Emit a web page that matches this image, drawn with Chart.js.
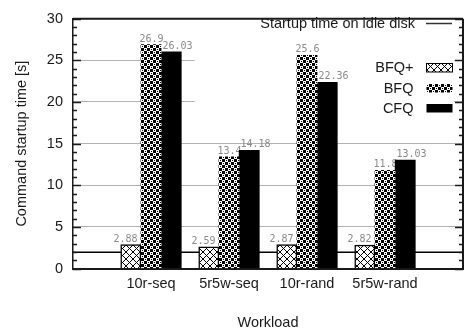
<!DOCTYPE html>
<html><head><meta charset="utf-8">
<script src="https://cdn.jsdelivr.net/npm/chart.js@4.4.1/dist/chart.umd.min.js"></script>
<style>html,body{margin:0;padding:0;overflow:hidden;background:#fff}canvas{display:block}</style>
</head><body>
<canvas id="c" width="470" height="333"></canvas>
<script>
// Command startup time per workload and I/O scheduler
const workloads = ['10r-seq', '5r5w-seq', '10r-rand', '5r5w-rand'];
const seriesNames = ['BFQ+', 'BFQ', 'CFQ'];
const bfqPlus = [2.88, 2.59, 2.87, 2.82];
const bfq = [26.9, 13.4, 25.6, 11.8];
const cfq = [26.03, 14.18, 22.36, 13.03];
const idleDiskStartup = 1.95;
const idleLabel = 'Startup time on idle disk';
const yMax = 30;
const yStep = 5;

const X_MIN = -1, X_MAX = 4;
const FONT = "'Liberation Sans', Arial, sans-serif";
const FONT_SIZE = 14.5;
const INK = '#1a1a1a';

const canvas = document.getElementById('c');
const ctx = canvas.getContext('2d');

// 1-bit fill tiles in the style of gnuplot patterns
function tile(size, isInk) {
  const c = document.createElement('canvas');
  c.width = c.height = size;
  const g = c.getContext('2d');
  const img = g.createImageData(size, size);
  for (let yy = 0; yy < size; yy++) {
    for (let xx = 0; xx < size; xx++) {
      const o = (yy * size + xx) * 4;
      const v = isInk(xx, yy) ? 0 : 255;
      img.data[o] = img.data[o + 1] = img.data[o + 2] = v;
      img.data[o + 3] = 255;
    }
  }
  g.putImageData(img, 0, 0);
  return ctx.createPattern(c, 'repeat');
}
const crossHatch = tile(7, (x, y) => x === y || x === 6 - y);
const ringDots = tile(6, (x, y) => {
  const ring = Math.floor(x / 3) === Math.floor(y / 3);
  return ring ? (x % 3 === 1 && y % 3 === 1) : true;
});
const fills = [crossHatch, ringDots, '#000'];
const series = [bfqPlus, bfq, cfq];

const toPoints = arr => arr.map((v, i) => ({ x: i, y: v }));

const decorations = {
  id: 'decorations',
  beforeDatasetsDraw(chart) {
    const { ctx, chartArea: a, scales: { x, y } } = chart;
    ctx.save();
    // opaque key background over the grid
    ctx.fillStyle = '#fff';
    ctx.fillRect(194.5, a.top + 1.5, a.right - 9 - 194.5, 122 - a.top);
    // value labels above each bar
    ctx.font = "10px 'DejaVu Sans Mono', monospace";
    ctx.fillStyle = '#8a8a8a';
    ctx.textAlign = 'center';
    ctx.textBaseline = 'alphabetic';
    series.forEach((arr, k) => arr.forEach((v, i) => {
      ctx.fillText(String(v), x.getPixelForValue(i + (k - 1) / 3) + 0.5, y.getPixelForValue(v) - 3);
    }));
    ctx.restore();
  },
  afterDraw(chart) {
    const { ctx, chartArea: a, scales: { y } } = chart;
    ctx.save();
    ctx.strokeStyle = INK;
    // inward major/minor ticks, mirrored on both sides
    ctx.lineWidth = 1.3;
    for (let v = 0; v <= yMax; v++) {
      const len = v % yStep === 0 ? 8 : 4;
      const py = Math.round(y.getPixelForValue(v)) + 0.5;
      ctx.beginPath();
      ctx.moveTo(a.left, py); ctx.lineTo(a.left + len, py);
      ctx.moveTo(a.right, py); ctx.lineTo(a.right - len, py);
      ctx.stroke();
    }
    // top and right frame
    ctx.lineWidth = 2;
    ctx.beginPath();
    ctx.moveTo(a.left, a.top); ctx.lineTo(a.right, a.top);
    ctx.moveTo(a.right, a.top); ctx.lineTo(a.right, a.bottom);
    ctx.stroke();

    // key
    ctx.font = FONT_SIZE + 'px ' + FONT;
    ctx.fillStyle = INK;
    ctx.textAlign = 'right';
    ctx.textBaseline = 'middle';
    ctx.fillText(idleLabel, 415, 23.5);
    ctx.strokeStyle = '#333';
    ctx.lineWidth = 1.5;
    ctx.beginPath(); ctx.moveTo(426, 23.5); ctx.lineTo(452, 23.5); ctx.stroke();
    const rows = [68, 88.5, 108.5];
    seriesNames.forEach((name, k) => {
      const yc = rows[k];
      ctx.fillText(name, 413.5, yc);
      ctx.fillStyle = fills[k];
      ctx.fillRect(426.5, yc - 4.5, 26, 8.5);
      if (k === 0) {
        ctx.strokeStyle = '#000';
        ctx.lineWidth = 1;
        ctx.strokeRect(426.5, yc - 4.5, 26, 8.5);
      }
      ctx.fillStyle = INK;
    });
    ctx.restore();
  }
};

new Chart(ctx, {
  type: 'bar',
  data: {
    datasets: [
      {
        type: 'line', label: idleLabel,
        data: [{ x: X_MIN, y: idleDiskStartup }, { x: X_MAX, y: idleDiskStartup }],
        borderColor: '#000', borderWidth: 1.5, pointRadius: 0, order: 2
      },
      { label: seriesNames[0], data: toPoints(bfqPlus), backgroundColor: crossHatch, borderColor: '#000', borderWidth: 1.5, borderSkipped: 'start', order: 1 },
      { label: seriesNames[1], data: toPoints(bfq), backgroundColor: ringDots, borderWidth: 0, order: 1 },
      { label: seriesNames[2], data: toPoints(cfq), backgroundColor: '#000', borderWidth: 0, order: 1 }
    ]
  },
  options: {
    responsive: false,
    animation: false,
    devicePixelRatio: 1,
    layout: { padding: { top: 7.5, right: 0, left: 0, bottom: 0 } },
    datasets: { bar: { barThickness: 20.2 } },
    plugins: { legend: { display: false }, tooltip: { enabled: false } },
    scales: {
      x: {
        type: 'linear', min: X_MIN, max: X_MAX, offset: false,
        afterFit(s) { s.height = 64.5; },
        grid: { display: false, offset: false, drawTicks: false },
        border: { display: true, color: INK, width: 2 },
        ticks: {
          stepSize: 1, autoSkip: false, maxRotation: 0, padding: 7,
          color: INK, font: { family: FONT, size: FONT_SIZE },
          callback: v => workloads[v] ?? ''
        },
        title: { display: true, text: 'Workload', color: INK, font: { family: FONT, size: FONT_SIZE }, padding: { top: 0, bottom: 1.5 } }
      },
      y: {
        min: 0, max: yMax,
        afterFit(s) { s.width = 73; },
        grid: { color: '#666', lineWidth: 1, drawTicks: false },
        border: { display: true, color: INK, width: 1.5, dash: [1, 1] },
        ticks: { stepSize: yStep, padding: 10, color: INK, font: { family: FONT, size: FONT_SIZE } },
        title: { display: true, text: 'Command startup time [s]', color: INK, font: { family: FONT, size: FONT_SIZE }, padding: { top: 13, bottom: 0 } }
      }
    }
  },
  plugins: [decorations]
});
</script>
</body></html>
